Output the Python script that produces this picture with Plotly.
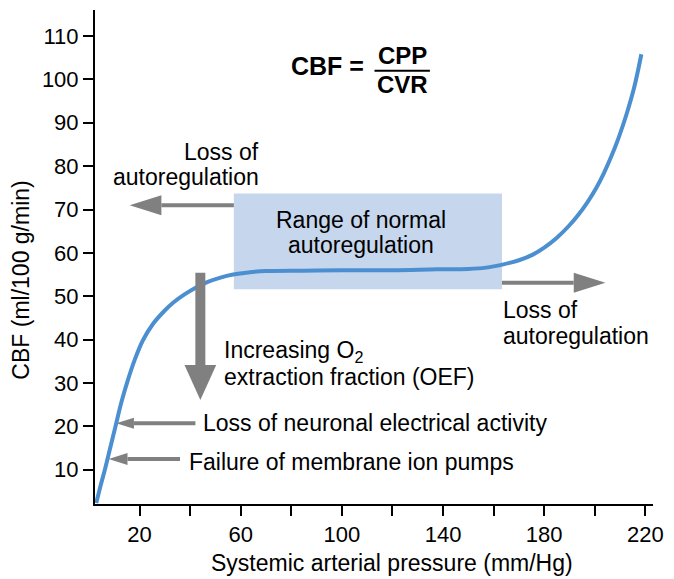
import plotly.graph_objects as go

# Cerebral blood flow (CBF) versus systemic arterial pressure
pressure = [2.9, 4.6, 6.3, 8.4, 10.5, 12.8, 15.3, 18.2, 21.3, 25.3, 29.8, 33.5, 37.5,
            42, 47, 52, 57, 63, 70, 85, 100, 120, 137.5, 150, 157, 163.5, 170, 175.5,
            180, 185, 189.7, 193.5, 197, 200.5, 203.5, 206.5, 209.5, 212.5, 215.5, 218.4]
cbf = [2.3, 6.3, 10, 15, 20, 25.5, 30.5, 35.5, 39.8, 43.6, 46.6, 48.6, 50.3,
       51.9, 53.3, 54.3, 55.0, 55.5, 55.8, 55.9, 56, 56, 56.2, 56.3, 56.6, 57.3, 58.3, 59.6,
       61.2, 63.5, 66.2, 68.8, 71.6, 74.9, 78.3, 82.2, 86.7, 91.9, 98.0, 105.8]

x_tick_vals = [20, 40, 60, 80, 100, 120, 140, 160, 180, 200, 220]
x_tick_text = ["20", "", "60", "", "100", "", "140", "", "180", "", "220"]
y_tick_vals = [10, 20, 30, 40, 50, 60, 70, 80, 90, 100, 110]

x_range = [2.4, 223]
y_range = [2.1, 116]

# Normal autoregulation plateau (pressure range, CBF range)
plateau_x = [57.3, 163.3]
plateau_y = [51.6, 73.7]

W, H = 674, 579
M = dict(l=95, r=16, t=10, b=75)
plot_w = W - M["l"] - M["r"]
plot_h = H - M["t"] - M["b"]
ux = (x_range[1] - x_range[0]) / plot_w   # data units per pixel, x
uy = (y_range[1] - y_range[0]) / plot_h   # data units per pixel, y

FONT = "Liberation Sans, Arial, Helvetica, sans-serif"
GRAY = "#808080"
BLUE = "#4b8fd1"

fig = go.Figure()

fig.add_trace(go.Scatter(
    x=pressure, y=cbf, mode="lines",
    line=dict(color=BLUE, width=4, shape="spline", smoothing=1.0),
    hoverinfo="skip", showlegend=False,
))

shapes = []
shapes.append(dict(type="rect", xref="x", yref="y", layer="below",
                   x0=plateau_x[0], x1=plateau_x[1], y0=plateau_y[0], y1=plateau_y[1],
                   fillcolor="#c5d6ed", line=dict(width=0)))


def arrow(x0, y0, x1, y1, shaft, head_len, head_w):
    """Straight arrow from (x0, y0) to tip (x1, y1); sizes in pixels."""
    if y0 == y1:
        s = 1 if x1 > x0 else -1
        base = x1 - s * head_len * ux
        hw = head_w / 2 * uy
        shapes.append(dict(type="line", xref="x", yref="y", x0=x0, y0=y0, x1=base, y1=y1,
                           line=dict(color=GRAY, width=shaft)))
        shapes.append(dict(type="path", xref="x", yref="y",
                           path=f"M {x1},{y1} L {base},{y1 + hw} L {base},{y1 - hw} Z",
                           fillcolor=GRAY, line=dict(width=0)))
    else:
        s = 1 if y1 > y0 else -1
        base = y1 - s * head_len * uy
        hw = head_w / 2 * ux
        shapes.append(dict(type="line", xref="x", yref="y", x0=x0, y0=y0, x1=x1, y1=base,
                           line=dict(color=GRAY, width=shaft)))
        shapes.append(dict(type="path", xref="x", yref="y",
                           path=f"M {x1},{y1} L {x1 + hw},{base} L {x1 - hw},{base} Z",
                           fillcolor=GRAY, line=dict(width=0)))


# Loss of autoregulation below and above the plateau
arrow(plateau_x[0], 71.0, 16.1, 71.0, 4, 32, 20)
arrow(plateau_x[1], 53.1, 204.2, 53.1, 4, 32, 20)
# Rising oxygen extraction as flow falls
arrow(44.05, 55.4, 44.05, 26.1, 10, 35, 32)
# Ischemic thresholds
arrow(42.1, 20.7, 10.75, 20.7, 4, 18, 11)
arrow(36.0, 12.5, 7.8, 12.5, 4, 19, 12)

# Fraction bar of the formula
shapes.append(dict(type="line", xref="x", yref="y", x0=112.9, x1=134.8, y0=102.0, y1=102.0,
                   line=dict(color="black", width=2)))

TXT = 23


def label(text, x, y, xanchor="left", size=TXT, bold=False):
    if bold:
        text = f"<b>{text}</b>"
    return dict(text=text, x=x, y=y, xref="x", yref="y", xanchor=xanchor, yanchor="middle",
                showarrow=False, font=dict(family=FONT, size=size, color="black"))


annotations = [
    label("Loss of", 68.2, 83.3, "right"),
    label("autoregulation", 68.2, 77.5, "right"),
    label("Range of normal", 107.4, 67.6, "center"),
    label("autoregulation", 107.4, 61.8, "center"),
    label("Loss of", 163.0, 46.8),
    label("autoregulation", 163.0, 40.8),
    label("Increasing O<sub>2</sub>", 52.6, 37.3),
    label("extraction fraction (OEF)", 52.6, 31.4),
    label("Loss of neuronal electrical activity", 44.2, 20.8),
    label("Failure of membrane ion pumps", 38.8, 11.8),
    label("CBF =", 94.5, 103.1, "center", size=25, bold=True),
    label("CPP", 123.9, 105.6, "center", size=24, bold=True),
    label("CVR", 123.9, 98.9, "center", size=24, bold=True),
    dict(text="CBF (ml/100 g/min)", x=(20 - M["l"]) / plot_w, y=(504 - 280) / plot_h,
         xref="paper", yref="paper", textangle=-90, showarrow=False,
         xanchor="center", yanchor="middle", font=dict(family=FONT, size=TXT, color="black")),
    dict(text="Systemic arterial pressure (mm/Hg)", x=(395 - M["l"]) / plot_w,
         y=(504 - 563) / plot_h, xref="paper", yref="paper", showarrow=False,
         xanchor="center", yanchor="middle", font=dict(family=FONT, size=TXT, color="black")),
]

axis_common = dict(showgrid=False, zeroline=False, showline=True, linecolor="black",
                   linewidth=2, ticks="outside", ticklen=10, tickwidth=2, tickcolor="black",
                   tickfont=dict(family=FONT, size=22, color="black"), mirror=False)

fig.update_layout(
    width=W, height=H, margin=M,
    paper_bgcolor="white", plot_bgcolor="white",
    shapes=shapes, annotations=annotations,
    xaxis=dict(range=x_range, tickmode="array", tickvals=x_tick_vals, ticktext=x_tick_text,
               **axis_common),
    yaxis=dict(range=y_range, tickmode="array", tickvals=y_tick_vals, **axis_common),
    showlegend=False,
)

fig.write_html("out.html")
